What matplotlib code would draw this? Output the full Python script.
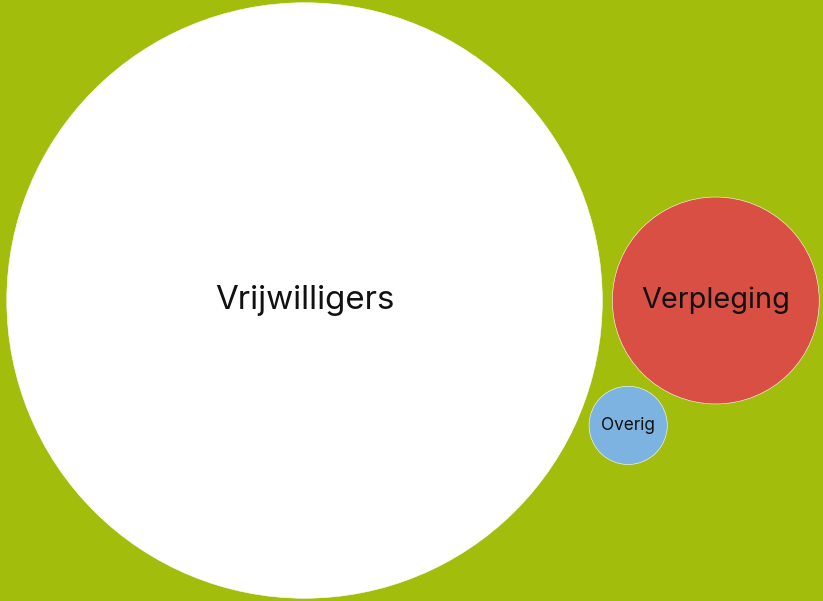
import numpy as np
import matplotlib.pyplot as plt
from matplotlib.patches import Circle

# data
labels = ['Vrijwilligers', 'Verpleging', 'Overig']
values = [58, 7, 1]
colors = ['#ffffff', '#d94f43', '#7db3e0']
font_sizes = [23.8, 20.8, 12.4]

W, H = 823, 601
bg = '#a2bd0b'
pad = 10          # gap between bubbles, px
scale = 39.1      # px per sqrt(value)

r = scale * np.sqrt(values)

# simple packing: 2nd to the right of the 1st, 3rd tucked below between them
c1 = np.array([0.0, 0.0])
c2 = np.array([r[0] + r[1] + pad, 0.0])
d13 = r[0] + r[2] + pad
d23 = r[1] + r[2] + pad
d12 = c2[0]
a = (d13**2 - d23**2 + d12**2) / (2 * d12)
h = np.sqrt(d13**2 - a**2)
c3 = np.array([a, h])   # y grows downwards
centers = np.array([c1, c2, c3])

# center the whole group in the figure
xmin = (centers[:, 0] - r).min()
xmax = (centers[:, 0] + r).max()
ymin = (centers[:, 1] - r).min()
ymax = (centers[:, 1] + r).max()
centers[:, 0] += W / 2 - (xmin + xmax) / 2 + 1.5
centers[:, 1] += H / 2 - (ymin + ymax) / 2

fig = plt.figure(figsize=(W / 100, H / 100), dpi=100)
fig.patch.set_facecolor(bg)
ax = fig.add_axes([0, 0, 1, 1])
ax.set_facecolor(bg)
ax.set_xlim(0, W)
ax.set_ylim(H, 0)
ax.set_aspect('equal')
ax.axis('off')

for i in range(len(values)):
    ax.add_patch(Circle(centers[i], r[i], facecolor=colors[i],
                        edgecolor='white', linewidth=0.4))
    ax.text(centers[i][0], centers[i][1], labels[i], ha='center', va='center',
            fontsize=font_sizes[i], family='Inter', color='#111111')

fig.savefig('out.png', dpi=100, facecolor=bg)
